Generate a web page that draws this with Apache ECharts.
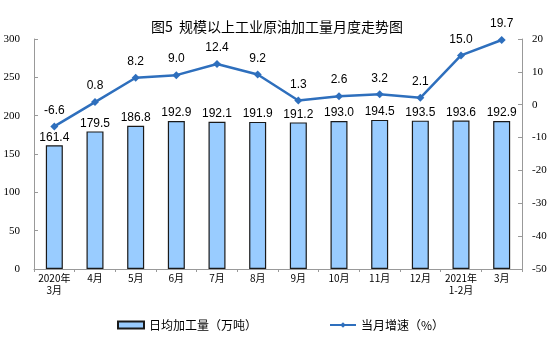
<!DOCTYPE html>
<html>
<head>
<meta charset="utf-8">
<script src="https://cdn.jsdelivr.net/npm/echarts@6/dist/echarts.min.js"></script>
<style>
html, body { margin: 0; padding: 0; background: #fff; }
#chart { width: 554px; height: 353px; }
</style>
</head>
<body>
<div id="chart"></div>
<script>
// 月份
var months = ['2020年\n3月', '4月', '5月', '6月', '7月', '8月', '9月', '10月', '11月', '12月', '2021年\n1-2月', '3月'];
// 日均加工量（万吨）
var dailyOutput = [161.4, 179.5, 186.8, 192.9, 192.1, 191.9, 191.2, 193.0, 194.5, 193.5, 193.6, 192.9];
// 当月增速（%）
var growth = [-6.6, 0.8, 8.2, 9.0, 12.4, 9.2, 1.3, 2.6, 3.2, 2.1, 15.0, 19.7];

var tickFont = {
    fontFamily: '"Liberation Serif", "Noto Sans CJK SC", serif',
    fontSize: 11,
    color: '#000'
};

var myChart = echarts.init(document.getElementById('chart'));

myChart.setOption({
    animation: false,
    title: {
        text: '图5  规模以上工业原油加工量月度走势图',
        left: 'center',
        top: 15,
        textStyle: {
            fontFamily: '"Noto Sans CJK SC", sans-serif',
            fontSize: 14,
            fontWeight: 'normal',
            color: '#000'
        }
    },
    legend: {
        top: 314,
        left: 112,
        itemGap: 72,
        itemWidth: 26,
        itemHeight: 7,
        textStyle: {
            fontFamily: '"Noto Sans CJK SC", sans-serif',
            fontSize: 12,
            color: '#000'
        },
        data: [
            {name: '日均加工量（万吨）', icon: 'rect'},
            {name: '当月增速（%）'}
        ]
    },
    grid: {
        left: 34,
        right: 32,
        top: 39,
        bottom: 84
    },
    xAxis: {
        type: 'category',
        data: months,
        axisLine: {lineStyle: {color: '#999'}},
        axisTick: {show: true, inside: false, length: 3, lineStyle: {color: '#999'}},
        axisLabel: {
            fontFamily: '"Noto Sans CJK SC", serif',
            fontSize: 10,
            color: '#000',
            lineHeight: 12,
            interval: 0,
            margin: 3
        }
    },
    yAxis: [
        {
            type: 'value',
            min: 0,
            max: 300,
            interval: 50,
            splitLine: {show: false},
            axisLine: {show: true, lineStyle: {color: '#999'}},
            axisTick: {show: true, inside: true, length: 4, lineStyle: {color: '#999'}},
            axisLabel: Object.assign({margin: 14, align: 'right'}, tickFont)
        },
        {
            type: 'value',
            min: -50,
            max: 20,
            interval: 10,
            splitLine: {show: false},
            axisLine: {show: true, lineStyle: {color: '#999'}},
            axisTick: {show: true, inside: true, length: 4, lineStyle: {color: '#999'}},
            axisLabel: Object.assign({margin: 10}, tickFont)
        }
    ],
    series: [
        {
            name: '日均加工量（万吨）',
            type: 'bar',
            data: dailyOutput,
            barWidth: 17,
            itemStyle: {
                color: '#99ccff',
                borderColor: '#1a1a1a',
                borderWidth: 1.2
            },
            label: {
                show: true,
                position: 'top',
                distance: 2,
                fontFamily: 'Arial, "Liberation Sans", sans-serif',
                fontSize: 12,
                color: '#000',
                formatter: function (p) { return p.value.toFixed(1); }
            }
        },
        {
            name: '当月增速（%）',
            type: 'line',
            yAxisIndex: 1,
            data: growth,
            symbol: 'diamond',
            symbolSize: 8,
            lineStyle: {color: '#2e6fbd', width: 2.5},
            itemStyle: {color: '#2e6fbd'},
            label: {
                show: true,
                position: 'top',
                distance: 6,
                fontFamily: 'Arial, "Liberation Sans", sans-serif',
                fontSize: 12,
                color: '#000',
                formatter: function (p) { return p.value.toFixed(1); }
            }
        }
    ]
});
</script>
</body>
</html>
